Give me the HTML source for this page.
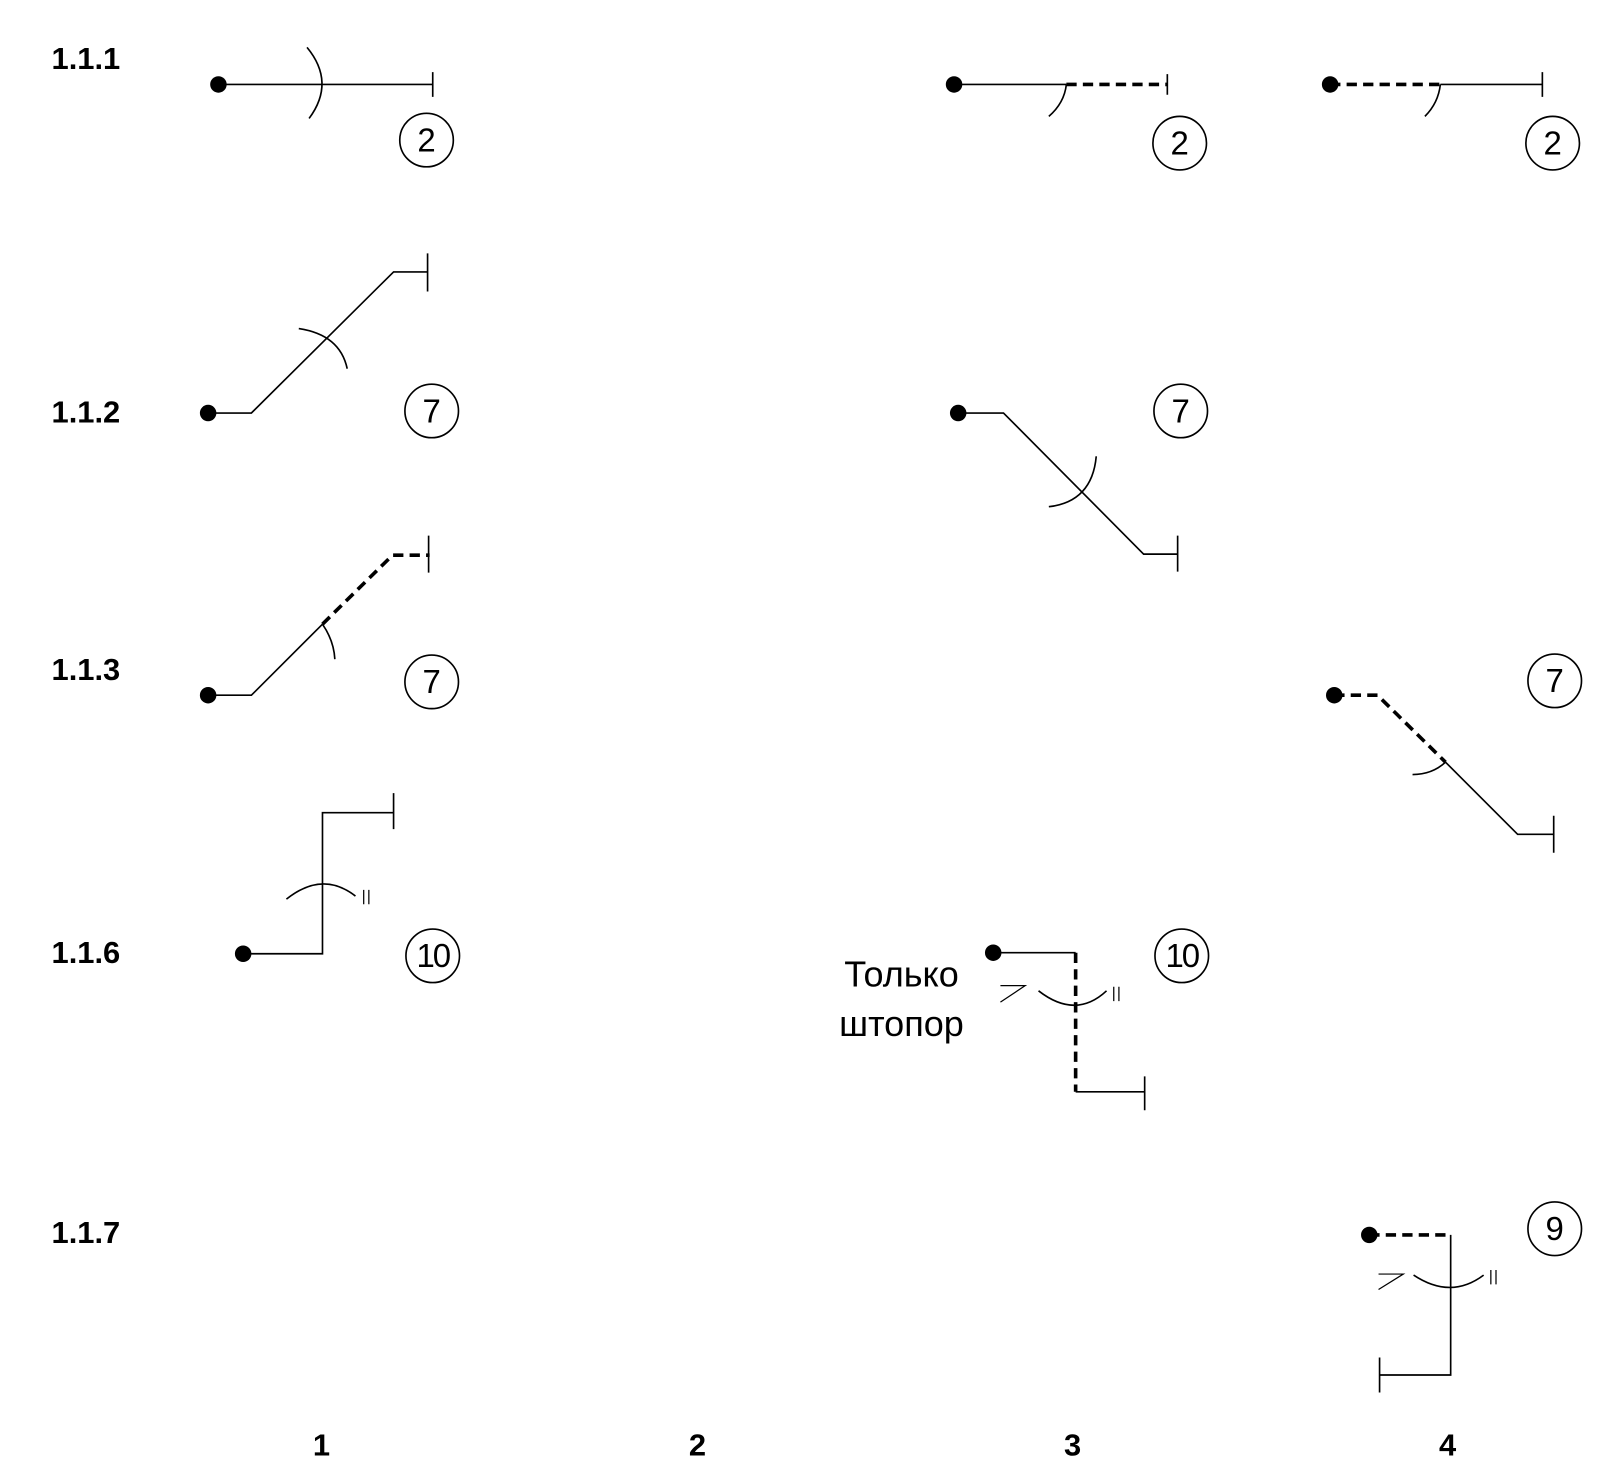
<!DOCTYPE html>
<html><head><meta charset="utf-8"><style>html,body{margin:0;padding:0;background:#fff}svg{display:block}</style></head>
<body>
<svg width="1615" height="1478" viewBox="0 0 1567.5 1435" preserveAspectRatio="none" xmlns="http://www.w3.org/2000/svg">
<g font-family="Liberation Sans, sans-serif" font-weight="bold" font-size="30" fill="#000">
<text x="50" y="67">1.1.1</text>
<text x="50" y="410">1.1.2</text>
<text x="50" y="660">1.1.3</text>
<text x="50" y="935">1.1.6</text>
<text x="50" y="1207">1.1.7</text>
<text x="312" y="1413" text-anchor="middle">1</text>
<text x="677" y="1413" text-anchor="middle">2</text>
<text x="1041" y="1413" text-anchor="middle">3</text>
<text x="1405" y="1413" text-anchor="middle">4</text>
</g>
<g fill="none" stroke="#000" stroke-width="1.6">
<circle cx="414" cy="136" r="26"/><circle cx="1145" cy="139" r="26"/><circle cx="1507" cy="139" r="26"/>
<circle cx="419" cy="399" r="26"/><circle cx="1146" cy="399" r="26"/>
<circle cx="419" cy="662" r="26"/><circle cx="1509" cy="661" r="26"/>
<circle cx="420" cy="928" r="26"/><circle cx="1147" cy="928" r="26"/>
<circle cx="1509" cy="1193" r="26"/>
<path d="M212 82H420M420 70V94"/>
<path d="M298 46Q326 80 300 115"/>
<path d="M926 82H1035M1133 72V92"/>
<path d="M1035 82Q1033 100 1018 113"/>
<path d="M1398 82H1497M1497 70V94"/>
<path d="M1398 82Q1396 100 1383 113"/>
<path d="M202 401H244L382 264H415M415 246V283"/>
<path d="M290 319Q330 325 337 358"/>
<path d="M930 401H974L1110 538H1143M1143 520V555"/>
<path d="M1064 443Q1060 487 1018 492"/>
<path d="M202 675H244L313 606M416 520V556"/>
<path d="M313 606Q324 622 325 640"/>
<path d="M1403 740L1473 810H1508M1508 792V828"/>
<path d="M1403 740Q1390 752 1371 752"/>
<path d="M236 926H313V789H382M382 770V805"/>
<path d="M278 873Q313 845 345 870"/>
<path d="M353 864V878M358 864V878" stroke-width="1.2"/>
<path d="M964 925H1044M1044 1060H1111M1111 1045V1078"/>
<path d="M1008 962Q1044 990 1074 962"/>
<path d="M1081 958V972M1086 958V972" stroke-width="1.2"/>
<path d="M971 957H995L971 973" stroke-width="1.2"/>
<path d="M1408 1199V1335H1339M1339 1318V1352"/>
<path d="M1372 1238Q1408 1262 1440 1238"/>
<path d="M1447 1233V1247M1452 1233V1247" stroke-width="1.2"/>
<path d="M1338 1237H1362L1338 1252" stroke-width="1.2"/>
</g>
<g fill="none" stroke="#000" stroke-width="3.5" stroke-dasharray="10 6">
<path d="M1035 82H1133"/>
<path d="M1291 82H1398"/>
<path d="M313 606L381 539H417"/>
<path d="M1295 675H1337L1403 740"/>
<path d="M1044 925V1060"/>
<path d="M1329 1199H1408"/>
</g>
<g fill="#000">
<circle cx="212" cy="82" r="8"/><circle cx="926" cy="82" r="8"/><circle cx="1291" cy="82" r="8"/>
<circle cx="202" cy="401" r="8"/><circle cx="930" cy="401" r="8"/>
<circle cx="202" cy="675" r="8"/><circle cx="1295" cy="675" r="8"/>
<circle cx="236" cy="926" r="8"/><circle cx="964" cy="925" r="8"/>
<circle cx="1329" cy="1199" r="8"/>
</g>
<g font-family="Liberation Sans, sans-serif" font-size="32" fill="#000" text-anchor="middle">
<text x="414" y="147">2</text><text x="1145" y="150">2</text><text x="1507" y="150">2</text>
<text x="419" y="410">7</text><text x="1146" y="410">7</text>
<text x="419" y="673">7</text><text x="1509" y="672">7</text>
<text x="420" y="939" letter-spacing="-2">10</text><text x="1147" y="939" letter-spacing="-2">10</text>
<text x="1509" y="1204">9</text>
<text x="875" y="958" font-size="35">Только</text>
<text x="875" y="1006" font-size="35">штопор</text>
</g>
</svg>
</body></html>
